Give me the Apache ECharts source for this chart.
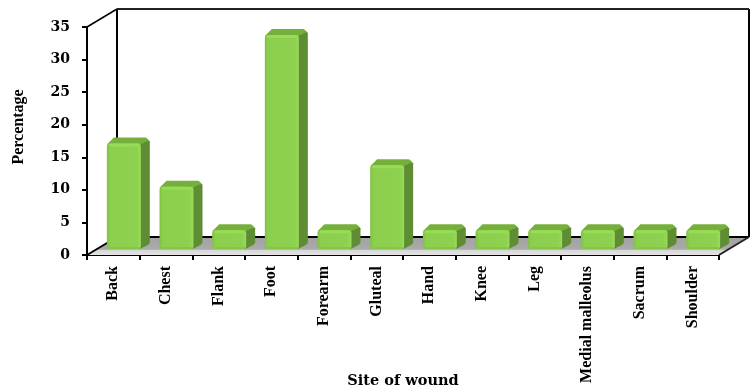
<!DOCTYPE html>
<html>
<head>
<meta charset="utf-8">
<style>html,body{margin:0;padding:0;background:#fff}#c{width:756px;height:389px}</style>
<script src="https://cdn.jsdelivr.net/npm/echarts@6/dist/echarts.min.js"></script>
</head>
<body>
<div id="c"></div>
<script>
const categories = ['Back','Chest','Flank','Foot','Forearm','Gluteal','Hand','Knee','Leg','Medial malleolus','Sacrum','Shoulder'];
const percentages = [16.67,10,3.33,33.33,3.33,13.33,3.33,3.33,3.33,3.33,3.33,3.33];
const yTicks = {min:0,max:35,interval:5};

// Depth of the box the chart sits in, and of each column
const BOX_DX = 30, BOX_DY = 18;
const BAR_DX = 9, BAR_DY = 6, BAR_SHIFT_X = 10.5, BASE_LIFT = 6, TOP_LIFT = 3, BAR_RATIO = 0.645;

const chart = echarts.init(document.getElementById('c'));

// Floor, back wall edges and side wall edge
function renderBox(params, api) {
  const cs = params.coordSys;
  const l = cs.x, r = cs.x + cs.width, t = cs.y, b = cs.y + cs.height;
  const line = (x1,y1,x2,y2,w,col) => ({type:'line',shape:{x1,y1,x2,y2},style:{stroke:col||'#000',lineWidth:w}});
  return {type:'group',children:[
    {type:'polygon',shape:{points:[[l,b],[l+BOX_DX,b-BOX_DY],[r+BOX_DX,b-BOX_DY],[r,b]]},
     style:{fill:new echarts.graphic.LinearGradient(0,0,0,1,[
       {offset:0,color:'#a2a2a2'},{offset:0.68,color:'#aaaaaa'},{offset:0.74,color:'#d8d8d8'},{offset:1,color:'#e4e4e4'}])}},
    line(l+BOX_DX,b-BOX_DY,r+BOX_DX,b-BOX_DY,2),
    line(l+BOX_DX,t-BOX_DY,l+BOX_DX,b-BOX_DY,2),
    line(r+BOX_DX,t-BOX_DY,r+BOX_DX,b-BOX_DY,2),
    line(l+BOX_DX,t-BOX_DY,r+BOX_DX,t-BOX_DY,2,'#222'),
    line(l,t,l+BOX_DX,t-BOX_DY,1.5),
    line(l,b,l+BOX_DX,b-BOX_DY,2),
    line(r,b,r+BOX_DX,b-BOX_DY,2,'#222')
  ]};
}

// One bevelled 3D column
function renderColumn(params, api) {
  const idx = api.value(0);
  const top = api.coord([idx, api.value(1)]);
  const base = api.coord([idx, 0]);
  const w = api.size([1,0])[0] * BAR_RATIO;
  const x0 = top[0] + BAR_SHIFT_X - w/2, x1 = x0 + w;
  const y0 = top[1] - TOP_LIFT, y1 = base[1] - BASE_LIFT;
  return {type:'group',children:[
    {type:'polygon',shape:{points:[[x1-1,y0+1],[x1+BAR_DX-3,y0-BAR_DY+1],[x1+BAR_DX,y0-BAR_DY+4],[x1+BAR_DX,y1-BAR_DY],[x1+BAR_DX-2,y1-BAR_DY+2],[x1-1,y1]]},
     style:{fill:'#5f8d33'}},
    {type:'polygon',shape:{points:[[x0,y0+1],[x0+BAR_DX-2,y0-BAR_DY],[x1+BAR_DX-4,y0-BAR_DY],[x1+BAR_DX-1,y0-BAR_DY+3],[x1-1,y0+1]]},
     style:{fill:'#76b03c'}},
    {type:'rect',shape:{x:x0,y:y0,width:w,height:y1-y0,r:3},
     style:{fill:new echarts.graphic.LinearGradient(0,0,1,0,[
       {offset:0,color:'#80c142'},{offset:0.1,color:'#8ccf4e'},{offset:0.88,color:'#8ed050'},{offset:1,color:'#98dc58'}])}},
    {type:'rect',shape:{x:x0+2,y:y0,width:w-3,height:3,r:1.5},style:{fill:'#98dc56'}},
    {type:'rect',shape:{x:x0+2,y:y1-2,width:w-3,height:2,r:1},style:{fill:'#84c648'}}
  ]};
}

chart.setOption({
  animation:false,
  backgroundColor:'#fff',
  grid:{left:87,right:37,top:27,bottom:134,containLabel:false,outerBoundsMode:'none'},
  xAxis:{
    type:'category',data:categories,
    axisLine:{show:true,lineStyle:{color:'#000',width:2}},
    axisTick:{show:true,length:5,alignWithLabel:false,lineStyle:{color:'#000',width:2}},
    axisLabel:{rotate:90,interval:0,margin:11,color:'#000',fontFamily:'Liberation Serif',fontWeight:'bold',fontSize:16},
    name:'Site of wound',nameLocation:'middle',nameGap:119,nameMoveOverlap:false,
    nameTextStyle:{color:'#000',fontFamily:'DejaVu Serif',fontWeight:'bold',fontSize:14.5}
  },
  yAxis:{
    type:'value',min:yTicks.min,max:yTicks.max,interval:yTicks.interval,
    splitLine:{show:false},
    axisLine:{show:true,onZero:false,lineStyle:{color:'#000',width:2}},
    axisTick:{show:true,length:5,lineStyle:{color:'#000',width:2}},
    axisLabel:{margin:17,color:'#000',fontFamily:'DejaVu Serif',fontWeight:'bold',fontSize:14},
    name:'Percentage',nameLocation:'middle',nameGap:60,nameMoveOverlap:false,
    nameTextStyle:{color:'#000',fontFamily:'Liberation Serif',fontWeight:'bold',fontSize:16,padding:[0,0,0,28]}
  },
  series:[
    {type:'custom',renderItem:renderBox,data:[[0,0]],encode:{x:0,y:1},clip:false,silent:true,z:1},
    {type:'custom',renderItem:renderColumn,data:percentages.map((v,i)=>[i,v]),encode:{x:0,y:1},clip:false,z:3}
  ]
});
</script>
</body>
</html>
